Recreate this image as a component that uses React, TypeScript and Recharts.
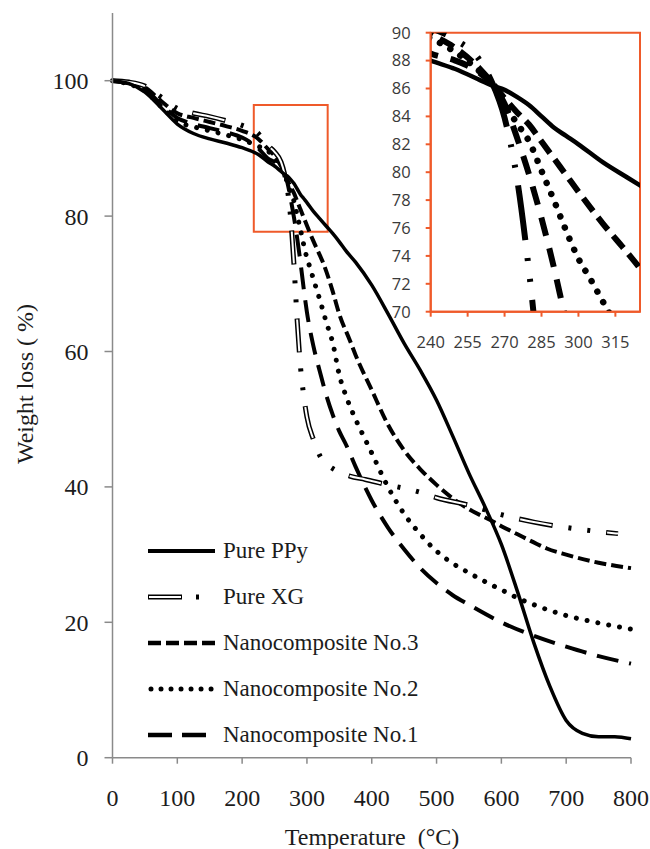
import { LineChart, Line, XAxis, YAxis, ReferenceArea } from "recharts";

// ---- data ----
const xTicks = [0, 100, 200, 300, 400, 500, 600, 700, 800];
const yTicks = [0, 20, 40, 60, 80, 100];
const insetXTicks = [240, 255, 270, 285, 300, 315];
const insetYTicks = [70, 72, 74, 76, 78, 80, 82, 84, 86, 88, 90];

const ppyT = [0, 25, 50, 75, 100, 125, 150, 175, 200, 225, 240, 250, 260, 265, 270, 275, 280, 285, 290, 295, 300, 310, 320, 330, 340, 350, 360, 375, 400, 425, 450, 475, 500, 525, 550, 575, 600, 625, 650, 675, 700, 725, 750, 775, 800];
const ppyW = [100, 99.6, 98.3, 96.0, 93.6, 92.2, 91.4, 90.8, 90.1, 89.1, 88.0, 87.4, 86.6, 86.2, 85.9, 85.4, 84.8, 84.0, 83.2, 82.6, 82.0, 80.7, 79.6, 78.5, 77.4, 76.2, 74.9, 73.2, 69.8, 65.6, 61.2, 57.2, 52.8, 47.5, 42.0, 37.0, 31.5, 24.5, 17.0, 10.5, 5.5, 3.6, 3.1, 3.1, 2.8];

const xgT = [0, 25, 50, 75, 100, 125, 150, 175, 200, 225, 240, 250, 260, 265, 270, 275, 280, 285, 290, 295, 300, 310, 320, 330, 340, 350, 366, 390, 425, 450, 475, 500, 550, 600, 650, 700, 750, 780];
const xgW = [100, 99.8, 99.2, 97.6, 95.9, 95.2, 94.7, 94.1, 93.4, 92.2, 90.4, 89.5, 88.0, 86.4, 83.9, 79.6, 72.8, 64.5, 57.8, 53.5, 50.3, 47.0, 44.6, 43.4, 42.7, 42.2, 41.6, 41.1, 40.3, 39.8, 39.2, 38.4, 37.3, 35.9, 34.8, 34.0, 33.4, 33.1];

const nc3T = [0, 25, 50, 75, 100, 125, 150, 175, 200, 225, 240, 250, 260, 265, 270, 275, 280, 285, 290, 295, 300, 310, 320, 325, 330, 340, 350, 366, 375, 400, 425, 450, 475, 500, 525, 550, 583, 600, 625, 650, 670, 700, 750, 800];
const nc3W = [100, 99.7, 99.0, 97.0, 95.2, 94.5, 93.9, 93.3, 92.6, 91.4, 89.9, 88.9, 87.4, 86.4, 85.3, 84.3, 83.4, 82.2, 81.0, 79.8, 78.6, 76.3, 74.2, 73.1, 71.8, 68.8, 65.5, 61.7, 59.5, 54.3, 49.2, 45.4, 42.6, 40.3, 38.3, 36.7, 35.1, 34.2, 33.0, 31.8, 30.9, 30.0, 28.8, 28.0];

const nc2T = [0, 25, 50, 75, 100, 125, 150, 175, 200, 225, 240, 250, 260, 265, 270, 275, 280, 285, 290, 295, 300, 305, 310, 320, 330, 340, 350, 360, 375, 390, 400, 425, 450, 475, 500, 525, 550, 575, 600, 625, 650, 700, 750, 800];
const nc2W = [100, 99.5, 98.5, 96.2, 94.0, 93.2, 92.6, 92.0, 91.3, 90.3, 89.6, 88.6, 87.2, 86.3, 84.9, 83.5, 82.2, 80.1, 78.0, 75.8, 73.8, 72.3, 70.7, 67.6, 64.3, 61.2, 56.5, 53.5, 50.0, 47.0, 45.0, 40.0, 36.0, 33.0, 30.5, 28.7, 27.3, 26.0, 24.8, 23.6, 22.6, 21.0, 19.9, 19.0];

const nc1T = [0, 25, 50, 75, 100, 125, 150, 175, 200, 225, 240, 250, 260, 265, 270, 275, 280, 285, 290, 295, 300, 310, 320, 330, 340, 350, 360, 375, 400, 425, 450, 475, 500, 525, 550, 600, 650, 700, 750, 800];
const nc1W = [100, 99.6, 98.8, 96.5, 94.5, 93.6, 93.0, 92.4, 91.6, 90.0, 88.5, 88.0, 87.1, 86.3, 84.9, 82.5, 79.8, 76.7, 73.2, 69.3, 65.8, 60.8, 57.0, 53.5, 50.6, 48.2, 46.3, 43.0, 38.0, 34.0, 30.8, 28.0, 25.8, 24.0, 22.6, 20.0, 18.0, 16.4, 15.0, 13.9];

const legendNames = ["Pure PPy", "Pure XG", "Nanocomposite No.3", "Nanocomposite No.2", "Nanocomposite No.1"];

const pts = (t: number[], w: number[]) => t.map((x, i) => ({ t: x, w: w[i] }));
const ppy = pts(ppyT, ppyW);
const xg = pts(xgT, xgW);
const nc3 = pts(nc3T, nc3W);
const nc2 = pts(nc2T, nc2W);
const nc1 = pts(nc1T, nc1W);

const SERIF = "'Liberation Serif', 'Times New Roman', serif";
const SANS = "'Open Sans', 'Liberation Sans', sans-serif";
const INK = "#1c1c1c";
const AXIS = "#8a8a8a";
const ORANGE = "#EF5A2A";

function LegendSample({ i }: { i: number }) {
  return (
    <svg width={70} height={20} style={{ display: "block" }}>
      {i === 0 && <line x1={0} y1={10} x2={67} y2={10} stroke="#000" strokeWidth={4} />}
      {i === 1 && (
        <>
          <line x1={0} y1={10} x2={67} y2={10} stroke="#000" strokeWidth={5} strokeDasharray="34 14 3 100" />
          <line x1={0} y1={10} x2={67} y2={10} stroke="#fff" strokeWidth={2} strokeDasharray="0 1 32 200" />
        </>
      )}
      {i === 2 && <line x1={0} y1={10} x2={67} y2={10} stroke="#000" strokeWidth={4.5} strokeDasharray="13 5" />}
      {i === 3 && (
        <line x1={3} y1={10} x2={67} y2={10} stroke="#000" strokeWidth={5} strokeDasharray="0.01 10" strokeLinecap="round" />
      )}
      {i === 4 && <line x1={0} y1={10} x2={67} y2={10} stroke="#000" strokeWidth={4.5} strokeDasharray="24 10" />}
    </svg>
  );
}

export default function App() {
  const legendY = [551, 597, 643, 689, 735];
  return (
    <div style={{ position: "relative", width: 650, height: 849, background: "#fff" }}>
      <style>{"body{margin:0}"}</style>
      <LineChart width={650} height={849} margin={{ top: 13, right: 19, bottom: 0, left: 0 }}>
        <XAxis
          type="number"
          dataKey="t"
          domain={[0, 800]}
          ticks={xTicks}
          height={91.3}
          tickSize={6}
          tickMargin={25}
          stroke={AXIS}
          strokeWidth={1.5}
          tick={{ fill: INK, fontSize: 24, fontFamily: SERIF }}
        />
        <YAxis
          type="number"
          dataKey="w"
          domain={[0, 110]}
          ticks={yTicks}
          width={112.5}
          tickSize={8}
          tickMargin={16}
          stroke={AXIS}
          strokeWidth={1.5}
          tick={{ fill: INK, fontSize: 24, fontFamily: SERIF }}
        />
        <Line data={nc1} dataKey="w" type="monotone" stroke="#000" strokeWidth={4} strokeDasharray="22 11" dot={false} isAnimationActive={false} />
        <Line data={nc2} dataKey="w" type="monotone" stroke="#000" strokeWidth={5} strokeDasharray="0.01 11" strokeLinecap="round" dot={false} isAnimationActive={false} />
        <Line data={nc3} dataKey="w" type="monotone" stroke="#000" strokeWidth={4} strokeDasharray="12 5" dot={false} isAnimationActive={false} />
        <Line data={xg} dataKey="w" type="monotone" stroke="#000" strokeWidth={5} strokeDasharray="34 16 3 16 3 16" dot={false} isAnimationActive={false} />
        <Line data={xg} dataKey="w" type="monotone" stroke="#fff" strokeWidth={2} strokeDasharray="0 1 32 55" dot={false} isAnimationActive={false} />
        <Line data={ppy} dataKey="w" type="monotone" stroke="#000" strokeWidth={3.5} dot={false} isAnimationActive={false} />
        <ReferenceArea x1={218} x2={332} y1={77.7} y2={96.4} fill="none" stroke={ORANGE} strokeWidth={2} />
      </LineChart>

      {/* inset zoom */}
      <div style={{ position: "absolute", left: 370, top: 20 }}>
        <LineChart width={280} height={345} margin={{ top: 12.7, right: 10, bottom: 0, left: 0 }}>
          <XAxis
            type="number"
            dataKey="t"
            domain={[240, 325]}
            ticks={insetXTicks}
            allowDataOverflow
            height={53.3}
            tickSize={5}
            tickMargin={20}
            stroke={ORANGE}
            strokeWidth={2}
            tick={{ fill: "#3a3a3a", fontSize: 16.5, fontFamily: SANS }}
          />
          <YAxis
            type="number"
            dataKey="w"
            domain={[70, 90]}
            ticks={insetYTicks}
            allowDataOverflow
            width={60.7}
            tickSize={5}
            tickMargin={15}
            stroke={ORANGE}
            strokeWidth={2}
            tick={{ fill: "#3a3a3a", fontSize: 16.5, fontFamily: SANS }}
          />
          <Line data={nc1} dataKey="w" type="monotone" stroke="#000" strokeWidth={6} strokeDasharray="19 13" dot={false} isAnimationActive={false} />
          <Line data={nc2} dataKey="w" type="monotone" stroke="#000" strokeWidth={6.5} strokeDasharray="0.01 12" strokeLinecap="round" dot={false} isAnimationActive={false} />
          <Line data={nc3} dataKey="w" type="monotone" stroke="#000" strokeWidth={6} strokeDasharray="16 8" dot={false} isAnimationActive={false} />
          <Line data={xg} dataKey="w" type="monotone" stroke="#000" strokeWidth={6} strokeDasharray="55 18 3 18 3 18" dot={false} isAnimationActive={false} />
          <Line data={ppy} dataKey="w" type="monotone" stroke="#000" strokeWidth={4.5} dot={false} isAnimationActive={false} />
          <ReferenceArea x1={240} x2={325} y1={70} y2={90} fill="none" stroke={ORANGE} strokeWidth={2} />
        </LineChart>
      </div>

      {/* legend */}
      {legendNames.map((name, i) => (
        <div key={name} style={{ position: "absolute", left: 148, top: legendY[i] - 10, height: 20 }}>
          <LegendSample i={i} />
          <span
            style={{
              position: "absolute",
              left: 75,
              top: -4,
              whiteSpace: "nowrap",
              fontFamily: SERIF,
              fontSize: 23,
              lineHeight: "28px",
              color: INK,
            }}
          >
            {name}
          </span>
        </div>
      ))}

      {/* axis titles */}
      <div
        style={{
          position: "absolute",
          left: 25,
          top: 384,
          transform: "translate(-50%, -50%) rotate(-90deg)",
          whiteSpace: "pre",
          fontFamily: SERIF,
          fontSize: 24,
          color: INK,
        }}
      >
        Weight loss ( %)
      </div>
      <div
        style={{
          position: "absolute",
          left: 372,
          top: 837,
          transform: "translate(-50%, -50%)",
          whiteSpace: "pre",
          fontFamily: SERIF,
          fontSize: 24,
          color: INK,
        }}
      >
        {"Temperature  (°C)"}
      </div>
    </div>
  );
}
